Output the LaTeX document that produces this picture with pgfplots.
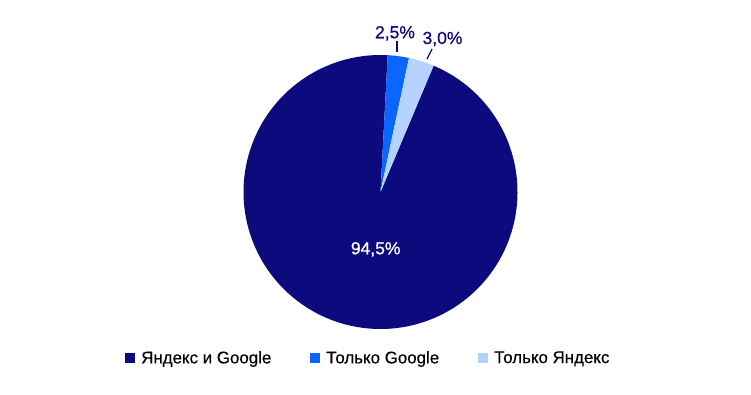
\documentclass[border=0pt]{standalone}
\usepackage{pgfplots}
\pgfplotsset{compat=1.18}
\usepackage{fontspec}
\setmainfont{Liberation Sans}
\newfontfamily\medfont[FakeBold=0.8]{Liberation Sans}
\newfontfamily\legfont[FakeBold=0.3]{Liberation Sans}
\definecolor{navy}{HTML}{0C0A7D}
\definecolor{bblue}{HTML}{0A66FF}
\definecolor{lblue}{HTML}{B5D2FF}
\begin{document}
\fontsize{16.5bp}{20bp}\selectfont
\begin{tikzpicture}
% shares in percent
\def\sA{94.5}% Яндекс и Google
\def\sB{2.5}% Только Google
\def\sC{3.0}% Только Яндекс
\def\start{87}
\pgfmathsetmacro\aB{\start-3.6*\sB}
\pgfmathsetmacro\aC{\aB-3.6*\sC}
\pgfmathsetmacro\aA{\aC-3.6*\sA}
\def\cx{380.5}\def\cy{203}\def\R{137}
\begin{axis}[
  scale only axis, width=751bp, height=395bp,
  xmin=0, xmax=751, ymin=0, ymax=395,
  hide axis, clip=false,
  legend columns=3,
  legend image code/.code={\fill[#1,draw=none] (0bp,-5bp) rectangle (10bp,5bp);},
  legend style={at={(axis cs:125,36.5)}, anchor=west, draw=none, fill=none,
    inner sep=0pt, nodes={inner sep=0pt, text=black, font=\legfont\fontsize{16.9bp}{20bp}\selectfont},
    /tikz/every odd column/.append style={column sep=6bp},
    /tikz/every even column/.append style={column sep=39bp}},
]
\addplot[fill=navy, draw=none, domain=\aA-1:\aC, samples=400, variable=\t]
  ({\t<\aA-0.5 ? \cx : \cx+\R*cos(max(\t,\aA))},
   {\t<\aA-0.5 ? \cy : \cy+\R*sin(max(\t,\aA))});
\addlegendentry{Яндекс и Google}
\addplot[fill=bblue, draw=none, domain=\aB-1:\start, samples=60, variable=\t]
  ({\t<\aB-0.5 ? \cx : \cx+\R*cos(max(\t,\aB))},
   {\t<\aB-0.5 ? \cy : \cy+\R*sin(max(\t,\aB))});
\addlegendentry{Только Google}
\addplot[fill=lblue, draw=none, domain=\aC-1:\aB, samples=60, variable=\t]
  ({\t<\aC-0.5 ? \cx : \cx+\R*cos(max(\t,\aC))},
   {\t<\aC-0.5 ? \cy : \cy+\R*sin(max(\t,\aC))});
\addlegendentry{Только Яндекс}
\begin{scope}[every node/.style={anchor=base, inner sep=0pt, font=\medfont\fontsize{17.5bp}{20bp}\selectfont}]
\node[text=white] at (axis cs:375.7,140.7) {94,5\%};
\node[text=navy] at (axis cs:395,356.7) {2,5\%};
\node[text=navy] at (axis cs:442.5,351) {3,0\%};
\end{scope}
\draw[navy, line width=1.3bp] (axis cs:397,354) -- (axis cs:397,343);
\draw[navy, line width=1.3bp] (axis cs:432,346) -- (axis cs:427,336);
\end{axis}
\path[use as bounding box] (current axis.south west) rectangle (current axis.north east);
\end{tikzpicture}
\end{document}
